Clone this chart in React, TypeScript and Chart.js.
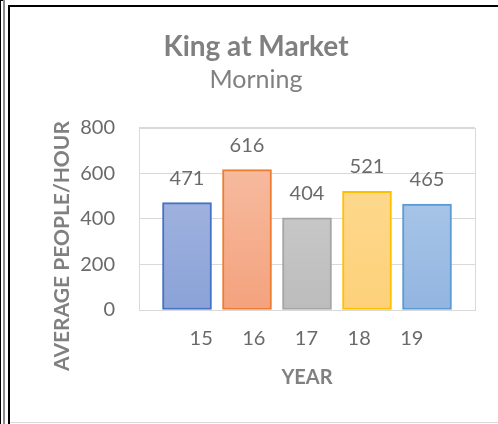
import React, { useEffect, useRef } from "react";
import { Chart, registerables } from "chart.js";

Chart.register(...registerables);

const chartTitle = "King at Market";
const chartSubtitle = "Morning";
const yAxisTitle = "AVERAGE PEOPLE/HOUR";
const xAxisTitle = "YEAR";
const categories = ["15", "16", "17", "18", "19"];
const values = [471, 616, 404, 521, 465];
const yTicks = [0, 200, 400, 600, 800];
const borderColors = ["#4472c4", "#ed7d31", "#a5a5a5", "#ffc000", "#5b9bd5"];
const topColors = ["#aebde2", "#f7c1a8", "#d2d2d2", "#fedb95", "#b6cfea"];
const bottomColors = ["#8aa2d8", "#f4a27d", "#bcbcbc", "#fdd17a", "#92b5e1"];

const FONT = "Lato, 'Open Sans', sans-serif";
const PAD_LEFT = 37;
const PAD_RIGHT = 23;

export default function App() {
  const ref = useRef<HTMLCanvasElement | null>(null);

  useEffect(() => {
    const canvas = ref.current;
    if (!canvas) return;

    const boxPlugin = {
      id: "plotBox",
      beforeDatasetsDraw(chart: any) {
        const { ctx, chartArea } = chart;
        ctx.save();
        ctx.strokeStyle = "#d9d9d9";
        ctx.lineWidth = 1;
        ctx.strokeRect(
          Math.round(chartArea.left) + 0.5,
          Math.round(chartArea.top) + 0.5,
          Math.round(chartArea.right - chartArea.left),
          Math.round(chartArea.bottom - chartArea.top)
        );
        ctx.restore();
      },
    };

    const labelPlugin = {
      id: "valueLabels",
      afterDatasetsDraw(chart: any) {
        const { ctx } = chart;
        const meta = chart.getDatasetMeta(0);
        ctx.save();
        ctx.fillStyle = "#6a6a6a";
        ctx.font = `20px ${FONT}`;
        ctx.textAlign = "center";
        ctx.textBaseline = "middle";
        meta.data.forEach((bar: any, i: number) => {
          ctx.fillText(String(values[i]), bar.x, bar.y - 24.5);
        });
        ctx.restore();
      },
    };

    const yTitlePlugin = {
      id: "yTitle",
      afterDraw(chart: any) {
        const { ctx } = chart;
        ctx.save();
        ctx.translate(62, 246);
        ctx.rotate(-Math.PI / 2);
        ctx.fillStyle = "#808080";
        ctx.font = `bold 21px ${FONT}`;
        ctx.textAlign = "center";
        ctx.textBaseline = "middle";
        ctx.fillText(yAxisTitle, 0, 0);
        ctx.restore();
      },
    };

    const chart = new Chart(canvas, {
      type: "bar",
      data: {
        datasets: [
          {
            data: values.map((v, i) => ({ x: i, y: v })),
            backgroundColor: (c: any) => {
              const area = c.chart.chartArea;
              const i = c.dataIndex ?? 0;
              if (!area) return topColors[i];
              const g = c.chart.ctx.createLinearGradient(0, area.top, 0, area.bottom);
              g.addColorStop(0, topColors[i]);
              g.addColorStop(1, bottomColors[i]);
              return g;
            },
            borderColor: borderColors,
            borderWidth: 2,
            borderSkipped: false,
            barThickness: 49,
          },
        ],
      },
      options: {
        animation: false,
        responsive: false,
        maintainAspectRatio: false,
        devicePixelRatio: 1,
        layout: { padding: { left: PAD_LEFT, right: PAD_RIGHT, top: 0, bottom: 0 } },
        plugins: {
          legend: { display: false },
          tooltip: { enabled: false },
          title: {
            display: true,
            text: chartTitle,
            color: "#808080",
            font: { family: FONT, size: 28, weight: "bold", lineHeight: 1.2 },
            padding: { top: 30, bottom: 0 },
          },
          subtitle: {
            display: true,
            text: chartSubtitle,
            color: "#808080",
            font: { family: FONT, size: 25, weight: "normal", lineHeight: 1.2 },
            padding: { top: 1, bottom: 33 },
          },
        },
        scales: {
          x: {
            type: "linear",
            display: false,
            offset: false,
            min: -0.8,
            max: categories.length - 0.2,
          },
          x2: {
            type: "linear",
            position: "bottom",
            offset: false,
            min: 13.82,
            max: 20.2,
            afterBuildTicks: (scale: any) => {
              scale.ticks = categories.map((c) => ({ value: Number(c) }));
            },
            afterFit: (scale: any) => {
              scale.height = 114;
            },
            grid: { display: false, drawTicks: false },
            border: { display: false },
            ticks: {
              color: "#6a6a6a",
              font: { family: FONT, size: 20 },
              padding: 17,
              autoSkip: false,
              maxRotation: 0,
              callback: (v: any) => {
                const idx = categories.indexOf(String(v));
                return idx >= 0 ? categories[idx] : "";
              },
            },
            title: {
              display: true,
              text: xAxisTitle,
              color: "#808080",
              font: { family: FONT, size: 20, weight: "bold", lineHeight: 1.2 },
              padding: { top: 0, bottom: 34 },
            },
          },
          y: {
            min: 0,
            max: 800,
            afterBuildTicks: (scale: any) => {
              scale.ticks = yTicks.map((v) => ({ value: v }));
            },
            afterFit: (scale: any) => {
              scale.width = 139 - PAD_LEFT;
            },
            grid: { color: "#d9d9d9", drawTicks: false, lineWidth: 1 },
            border: { display: false },
            ticks: {
              color: "#6a6a6a",
              font: { family: FONT, size: 20 },
              padding: 24,
            },
            title: { display: false },
          },
        },
      },
      plugins: [boxPlugin, labelPlugin, yTitlePlugin],
    } as any);

    return () => chart.destroy();
  }, []);

  return (
    <div style={{ position: "fixed", left: 0, top: 0, width: 498, height: 424, background: "#fff", overflow: "hidden" }}>
      <div style={{ position: "absolute", left: 0, top: 0, width: 1, height: 424, background: "#000" }} />
      <div style={{ position: "absolute", left: 0, top: 0, width: 4, height: 1, background: "#000" }} />
      <div style={{ position: "absolute", left: 3, top: 0, width: 2, height: 424, background: "#8a8a8a" }} />
      <div style={{ position: "absolute", left: 8, top: 5, width: 2, height: 419, background: "#000" }} />
      <div style={{ position: "absolute", left: 8, top: 5, width: 490, height: 2, background: "#000" }} />
      <div style={{ position: "absolute", left: 10, top: 422, width: 488, height: 1, background: "#d9d9d9" }} />
      <canvas ref={ref} width={498} height={424} style={{ position: "absolute", left: 0, top: 0, width: 498, height: 424 }} />
    </div>
  );
}
